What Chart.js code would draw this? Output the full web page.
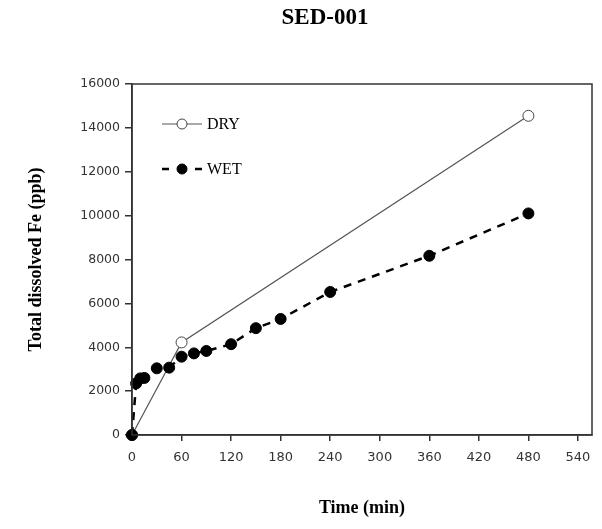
<!DOCTYPE html>
<html>
<head>
<meta charset="utf-8">
<script src="https://cdn.jsdelivr.net/npm/chart.js@4"></script>
<style>
  html, body { margin: 0; padding: 0; background: #fff; }
  #wrap { width: 602px; height: 529px; }
</style>
</head>
<body>
<div id="wrap"><canvas id="feChart" width="602" height="529"></canvas></div>
<script>
// SED-001 dissolved Fe data
const chartTitle = 'SED-001';
const xTitle = 'Time (min)';
const yTitle = 'Total dissolved Fe (ppb)';

const dryTime = [0, 60, 480];
const dryFe = [0, 4220, 14550];

const wetTime = [0, 5, 10, 15, 30, 45, 60, 75, 90, 120, 150, 180, 240, 360, 480];
const wetFe = [0, 2350, 2580, 2600, 3040, 3070, 3570, 3720, 3830, 4140, 4870, 5290, 6520, 8170, 10100];

const xTicks = [0, 60, 120, 180, 240, 300, 360, 420, 480, 540];
const yTicks = [0, 2000, 4000, 6000, 8000, 10000, 12000, 14000, 16000];

function toPoints(xs, ys) {
    return xs.map((x, i) => ({ x: x, y: ys[i] }));
}

// title, box around plot and legend inside the plot
const decorPlugin = {
    id: 'decor',
    afterDraw(chart) {
        const ctx = chart.ctx;
        const area = chart.chartArea;
        ctx.save();

        // frame
        ctx.strokeStyle = '#333';
        ctx.lineWidth = 1.5;
        ctx.strokeRect(area.left, area.top, area.right - area.left, area.bottom - area.top);

        // title
        ctx.fillStyle = '#000';
        ctx.font = 'bold 23px "Liberation Serif"';
        ctx.textAlign = 'center';
        ctx.textBaseline = 'middle';
        ctx.fillText(chartTitle, 325, 18);

        // legend
        const rows = [124, 169];
        chart.data.datasets.forEach((ds, i) => {
            const y = rows[i];
            ctx.strokeStyle = ds.borderColor;
            ctx.lineWidth = ds.borderWidth;
            if (ds.borderDash) {
                ctx.setLineDash([7, 26]);
            } else {
                ctx.setLineDash([]);
            }
            ctx.beginPath();
            ctx.moveTo(162, y);
            ctx.lineTo(202, y);
            ctx.stroke();
            ctx.setLineDash([]);
            ctx.beginPath();
            ctx.arc(182, y, ds.pointRadius - 0.5, 0, Math.PI * 2);
            ctx.fillStyle = ds.pointBackgroundColor;
            ctx.fill();
            ctx.lineWidth = ds.pointBorderWidth;
            ctx.strokeStyle = ds.pointBorderColor;
            ctx.stroke();
            ctx.fillStyle = '#000';
            ctx.font = '16px "Liberation Serif"';
            ctx.textAlign = 'left';
            ctx.textBaseline = 'middle';
            ctx.fillText(ds.label, 207, y + 1);
        });
        ctx.restore();
    }
};

new Chart(document.getElementById('feChart'), {
    type: 'line',
    data: {
        datasets: [
            {
                label: 'DRY',
                data: toPoints(dryTime, dryFe),
                borderColor: '#555',
                borderWidth: 1.2,
                pointRadius: 5.5,
                pointBackgroundColor: '#fff',
                pointBorderColor: '#444',
                pointBorderWidth: 1,
                tension: 0,
                clip: false,
                order: 1
            },
            {
                label: 'WET',
                data: toPoints(wetTime, wetFe),
                borderColor: '#000',
                borderWidth: 2.5,
                borderDash: [8, 7],
                pointRadius: 5.5,
                pointBackgroundColor: '#000',
                pointBorderColor: '#000',
                pointBorderWidth: 1,
                tension: 0,
                clip: false,
                order: 0
            }
        ]
    },
    options: {
        responsive: false,
        animation: false,
        layout: {
            padding: { top: 84, right: 10, left: 0, bottom: 0 }
        },
        plugins: {
            legend: { display: false },
            title: { display: false },
            tooltip: { enabled: false }
        },
        scales: {
            x: {
                type: 'linear',
                min: 0,
                max: 557,
                afterFit: function(scale) { scale.height = 94; },
                afterBuildTicks: function(scale) {
                    scale.ticks = xTicks.map(v => ({ value: v }));
                },
                border: { color: '#333', width: 1.5 },
                grid: { drawOnChartArea: false, drawTicks: true, tickLength: 6, color: '#333', lineWidth: 1.5 },
                ticks: {
                    autoSkip: false,
                    maxRotation: 0,
                    padding: 9,
                    color: '#333',
                    font: { family: 'DejaVu Sans', size: 13 },
                    callback: function(value) { return String(value); }
                },
                title: {
                    display: true,
                    text: xTitle,
                    color: '#000',
                    font: { family: 'Liberation Serif', size: 18, weight: 'bold' },
                    padding: { top: 0, bottom: 10 }
                }
            },
            y: {
                min: 0,
                max: 16000,
                afterFit: function(scale) { scale.width = 132; },
                afterBuildTicks: function(scale) {
                    scale.ticks = yTicks.map(v => ({ value: v }));
                },
                border: { color: '#333', width: 1.5 },
                grid: { drawOnChartArea: false, drawTicks: true, tickLength: 7, color: '#333', lineWidth: 1.5 },
                ticks: {
                    padding: 5,
                    color: '#333',
                    font: { family: 'DejaVu Sans', size: 12.5 },
                    callback: function(value) { return String(value); }
                },
                title: {
                    display: true,
                    text: yTitle,
                    color: '#000',
                    font: { family: 'Liberation Serif', size: 18, weight: 'bold' },
                    padding: { top: 26, bottom: 0 }
                }
            }
        }
    },
    plugins: [decorPlugin]
});
</script>
</body>
</html>
